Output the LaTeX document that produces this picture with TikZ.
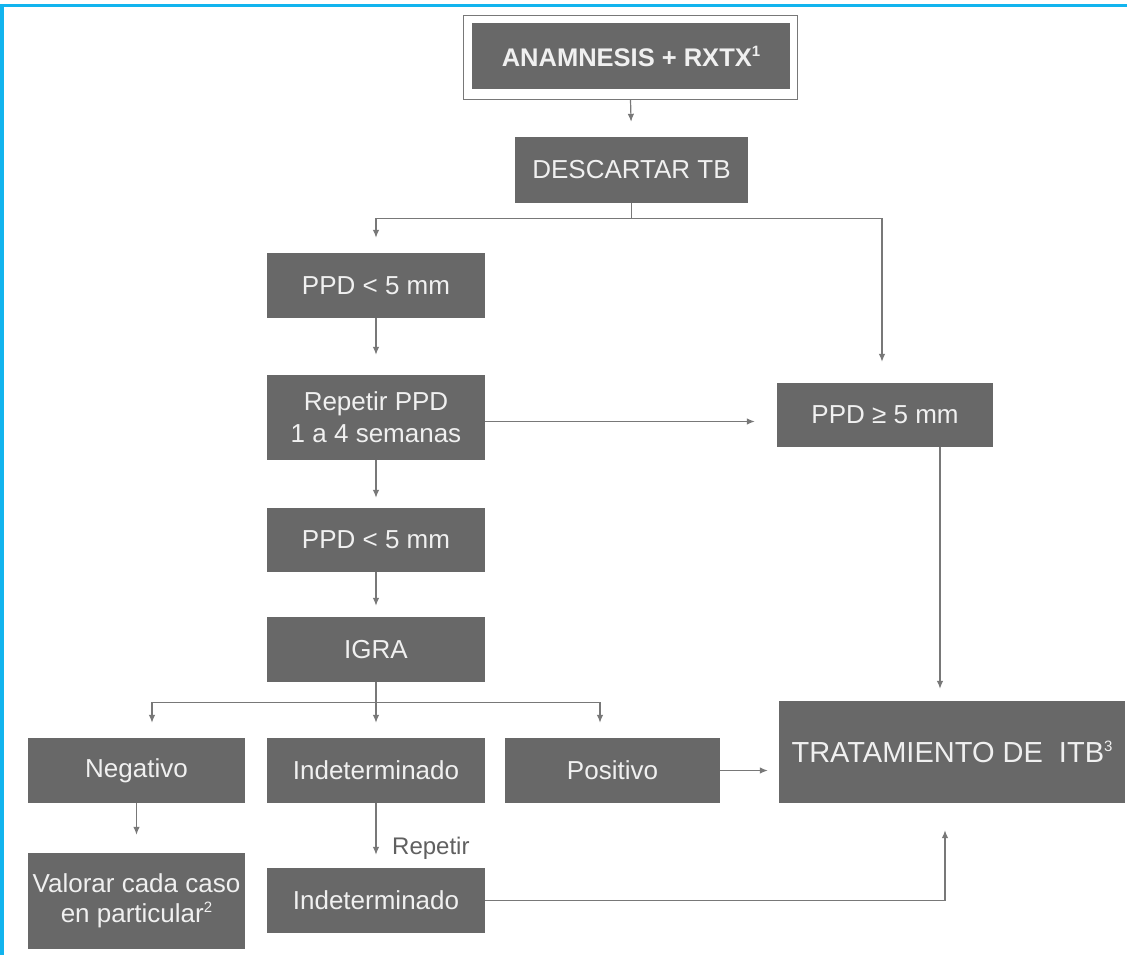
\documentclass[tikz,border=0pt]{standalone}
\usepackage{fontspec}
\setmainfont{Liberation Sans}
\usetikzlibrary{arrows.meta,calc}
\definecolor{boxgray}{RGB}{104,104,104}
\definecolor{linegray}{RGB}{120,120,120}
\definecolor{cyanb}{RGB}{18,180,238}
\definecolor{txt}{RGB}{240,240,240}
\newcommand{\supr}[1]{\raisebox{0.38em}{\fontsize{15}{15}\selectfont #1}}
\begin{document}
\begin{tikzpicture}[x=1pt,y=-1pt,
  box/.style={fill=boxgray,text=txt,inner sep=0pt,align=center,font=\fontsize{26}{32}\selectfont},
  conn/.style={draw=linegray,line width=1.2pt},
  arr/.style={conn,-{Latex[length=8pt,width=6.5pt]}},
  lbl/.style={text=linegray!80!black,font=\fontsize{24}{28}\selectfont,inner sep=0pt}
]
\useasboundingbox (0,0) rectangle (1127,955);
\fill[white] (0,0) rectangle (1127,955);
\draw[cyanb,line width=3.5pt] (1.75,955) -- (1.75,5.5) -- (1127,5.5);

% nodes
\node[draw=linegray,line width=1pt,minimum width=334pt,minimum height=84pt] (frame) at (630.5,57.5) {};
\node[box,minimum width=318pt,minimum height=66pt,font=\bfseries\fontsize{25.5}{30}\selectfont] (anam) at (631,56.5) {ANAMNESIS + RXTX\supr{1}};
\node[box,minimum width=233pt,minimum height=66pt] (desc) at (631.5,170) {DESCARTAR TB};
\node[box,minimum width=218pt,minimum height=65pt] (ppd1) at (376,285.5) {PPD < 5 mm};
\node[box,minimum width=218pt,minimum height=85pt] (rep) at (376,417.5) {Repetir PPD\\1 a 4 semanas};
\node[box,minimum width=216pt,minimum height=64pt] (ppd5) at (885,415) {PPD ≥ 5 mm};
\node[box,minimum width=218pt,minimum height=64pt] (ppd2) at (376,540) {PPD < 5 mm};
\node[box,minimum width=218pt,minimum height=65pt] (igra) at (376,649.5) {IGRA};
\node[box,minimum width=217pt,minimum height=65pt] (neg) at (136.5,770.5) {Negativo};
\node[box,minimum width=218pt,minimum height=65pt] (ind) at (376,770.5) {Indeterminado};
\node[box,minimum width=215pt,minimum height=65pt] (pos) at (612.5,770.5) {Positivo};
\node[box,minimum width=346pt,minimum height=102pt,font=\fontsize{29}{32}\selectfont] (trat) at (952,752) {TRATAMIENTO DE\ \ ITB\supr{3}};
\node[box,minimum width=217pt,minimum height=96pt,font=\fontsize{26}{30}\selectfont] (val) at (136.5,901) {Valorar cada caso\\en particular\supr{2}};
\node[box,minimum width=218pt,minimum height=65pt] (ind2) at (376,900.5) {Indeterminado};
\node[lbl,anchor=west] (replbl) at (392,848) {Repetir};

% connectors
\draw[arr,shorten >=15pt] (frame.south) -- (desc.north);
\draw[conn] (desc.south) -- ++(0,15) coordinate (s1);
\draw[arr,shorten >=15pt] (s1) -| (ppd1.north);
\draw[arr,shorten >=21pt] (s1) -| ([xshift=-3pt]ppd5.north);
\draw[arr,shorten >=20pt] (ppd1.south) -- (rep.north);
\draw[arr,shorten >=22pt] ([yshift=-4pt]rep.east) -- ([yshift=-4pt]rep.east -| ppd5.west);
\draw[arr,shorten >=12pt] ([xshift=55pt]ppd5.south) -- ([xshift=55pt]ppd5.south |- trat.north);
\draw[arr,shorten >=10pt] (rep.south) -- (ppd2.north);
\draw[arr,shorten >=11pt] (ppd2.south) -- (igra.north);
\draw[conn] (igra.south) -- ++(0,20.5) coordinate (s2);
\draw[arr,shorten >=15pt] (s2) -| ([xshift=15.5pt]neg.north);
\draw[arr,shorten >=15pt] (s2) -- (ind.north);
\draw[arr,shorten >=15pt] (s2) -| ([xshift=-12.5pt]pos.north);
\draw[arr,shorten >=18pt] (neg.south) -- (val.north);
\draw[arr,shorten >=13pt] (ind.south) -- (ind2.north);
\draw[arr,shorten >=11pt] (pos.east) -- (pos.east -| trat.west);
\draw[arr,shorten >=27pt] (ind2.east) -| ([xshift=-7pt]trat.south);
\end{tikzpicture}
\end{document}
